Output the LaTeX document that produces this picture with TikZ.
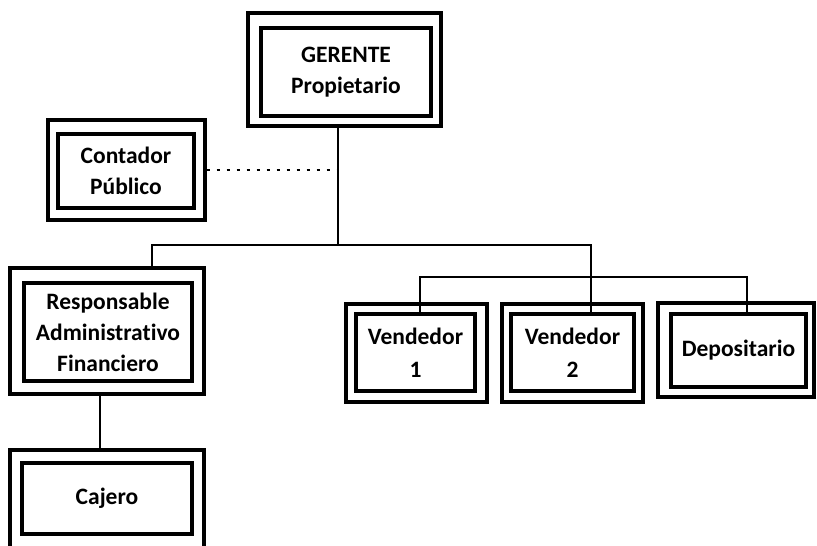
\documentclass[tikz,border=0pt]{standalone}
\usepackage{fontspec}
\setmainfont{Carlito}[Ligatures=NoCommon]
\begin{document}
\begin{tikzpicture}[x=1pt,y=-1pt,
  outerbox/.style={draw, line width=3.4pt, inner sep=0pt, rectangle},
  innerbox/.style={draw, line width=3.6pt, inner sep=0pt, rectangle, align=center,
    font=\bfseries\fontsize{23.5}{31}\selectfont},
  conn/.style={line width=1.5pt},
  dotconn/.style={line width=1.6pt, dash pattern=on 3pt off 7pt}]
\useasboundingbox (0,0) rectangle (817,546);
% Gerente
\node[outerbox, minimum width=193pt, minimum height=113pt] (gerO) at (344.5,69.5) {};
\node[innerbox, minimum width=170pt, minimum height=88pt] (ger) at (346,72) {GERENTE\\Propietario};
% Contador
\node[outerbox, minimum width=157pt, minimum height=100pt] (conO) at (126.5,170) {};
\node[innerbox, minimum width=136pt, minimum height=74pt] (con) at (126,171) {Contador\\Público};
% Responsable
\node[outerbox, minimum width=194pt, minimum height=126pt] (resO) at (107,331) {};
\node[innerbox, minimum width=168pt, minimum height=98pt] (res) at (108,332) {Responsable\\Administrativo\\Financiero};
% Cajero
\node[outerbox, minimum width=194pt, minimum height=100pt] (cajO) at (107,500) {};
\node[innerbox, minimum width=170pt, minimum height=71pt] (caj) at (107,498.5) {Cajero};
% Vendedor 1
\node[outerbox, minimum width=141pt, minimum height=98pt] (v1O) at (416.5,353) {};
\node[innerbox, minimum width=119pt, minimum height=77pt] (v1) at (415.5,352.5) {Vendedor\\[2pt]1};
% Vendedor 2
\node[outerbox, minimum width=141pt, minimum height=98pt] (v2O) at (572.5,353) {};
\node[innerbox, minimum width=123pt, minimum height=77pt] (v2) at (572.5,352.5) {Vendedor\\[2pt]2};
% Depositario
\node[outerbox, minimum width=156pt, minimum height=94pt] (depO) at (736,350) {};
\node[innerbox, minimum width=135pt, minimum height=73pt] (dep) at (738.5,350.5) {Depositario};
% junctions
\coordinate (j1) at (338,245);
\coordinate (jr) at (591,277);
% connectors
\draw[conn] (gerO.south -| j1) -- (j1);
\draw[conn] (resO.north -| 152,0) |- (j1);
\draw[conn] (j1) -| (v2.north -| jr);
\draw[conn] (v1.north -| 420,0) |- (jr) -| (dep.north -| 747,0);
\draw[dotconn] (conO.east) -- (conO.east -| j1);
\draw[conn] (resO.south -| 100,0) -- (cajO.north -| 100,0);
\end{tikzpicture}
\end{document}
